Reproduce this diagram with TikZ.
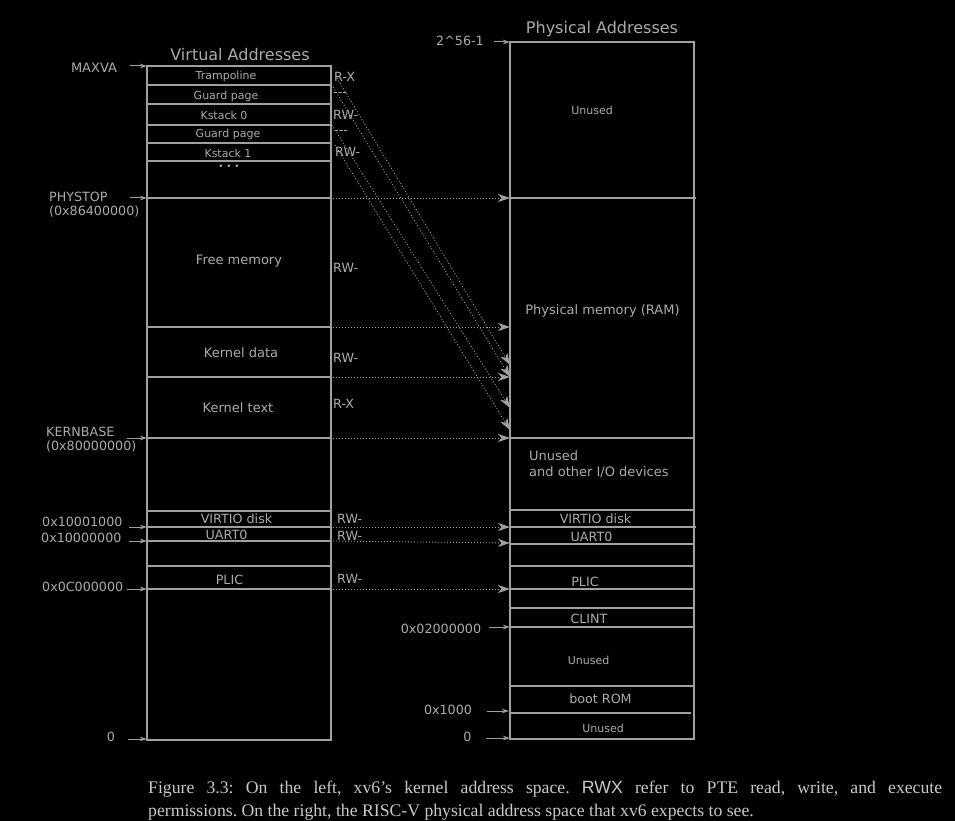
\documentclass[tikz,border=0pt]{standalone}
\usepackage{fontspec}
\setmainfont{DejaVu Sans}
\newfontfamily\capfont{Liberation Serif}
\newfontfamily\capsans{Liberation Sans}
\usetikzlibrary{arrows.meta}
\definecolor{ln}{HTML}{A0A0A0}
\definecolor{tx}{HTML}{ABABAB}
\definecolor{captx}{HTML}{C8C8C8}
\tikzset{
  membox/.style={draw=ln, line width=1.2pt},
  sepline/.style={draw=ln, line width=1.2pt},
  lbl/.style={text=tx, inner sep=0pt, font=\fontsize{12.7}{14}\selectfont},
  sml/.style={text=tx, inner sep=0pt, font=\fontsize{11}{13}\selectfont},
  med/.style={text=tx, inner sep=0pt, font=\fontsize{13}{15}\selectfont},
  ttl/.style={text=tx, inner sep=0pt, font=\fontsize{16}{18}\selectfont},
  ptr/.style={draw=ln, line width=1pt, -{Stealth[length=7pt,width=4.5pt,inset=2pt]}},
  mapar/.style={draw=ln, line width=0.9pt, dash pattern=on 0.9pt off 2.1pt, -{Stealth[length=12pt,width=8pt,inset=3.5pt]}},
  captxt/.style={text=captx, inner sep=0pt, font=\capfont\fontsize{17.7}{23}\selectfont\frenchspacing},
}
\begin{document}
\begin{tikzpicture}[x=1pt,y=-1pt]
\fill[black] (0,0) rectangle (955,821);
\useasboundingbox (0,0) rectangle (955,821);

% ---------- left box (virtual) ----------
\draw[membox] (147,66) rectangle (331,740);
\foreach \yy in {85,104,125,143,161,198,327,377,438,511,527,541,566,589}
  \draw[sepline] (147,\yy) -- (331,\yy);

\node[ttl] (vtitle) at (240,55) {Virtual Addresses};
\node[sml] (vtramp) at (226,76) {Trampoline};
\node[sml] (vguard0) at (226,96) {Guard page};
\node[sml] (vks0) at (224,115) {Kstack 0};
\node[sml] (vguard1) at (228,134.5) {Guard page};
\node[sml] (vks1) at (228,153) {Kstack 1};
\node[text=tx, inner sep=0pt, font=\fontsize{8.8}{10}\selectfont] (vdots) at (229,167) {• • •};
\node[med] (vfree) at (239,261) {Free memory};
\node[med] (vkdata) at (241,353) {Kernel data};
\node[med] (vktext) at (238,408) {Kernel text};
\node[lbl] (vvirtio) at (236.5,519) {VIRTIO disk};
\node[lbl] (vuart) at (226.5,535) {UART0};
\node[lbl] (vplic) at (229.5,579.5) {PLIC};

% permissions
\node[lbl, anchor=west] (p0) at (334,77) {R-X};
\node[lbl, anchor=west] (p1) at (333,95) {{-}{-}{-}};
\node[lbl, anchor=west] (p2) at (333,115) {RW-};
\node[lbl, anchor=west] (p3) at (334,133) {{-}{-}{-}};
\node[lbl, anchor=west] (p4) at (335,152) {RW-};
\node[lbl, anchor=west] (p5) at (333,268) {RW-};
\node[lbl, anchor=west] (p6) at (333,358) {RW-};
\node[lbl, anchor=west] (p7) at (333,404) {R-X};
\node[lbl, anchor=west] (p8) at (337,519) {RW-};
\node[lbl, anchor=west] (p9) at (337,536) {RW-};
\node[lbl, anchor=west] (p10) at (337,578.5) {RW-};

% left address labels
\node[med] (lmaxva) at (94,68) {MAXVA};
\node[lbl, anchor=west] (lphys) at (49,197) {PHYSTOP};
\node[lbl, anchor=west] (lphysv) at (49,212) {(0x86400000)};
\node[lbl, anchor=west] (lkern) at (46,432) {KERNBASE};
\node[lbl, anchor=west] (lkernv) at (46,447) {(0x80000000)};
\node[lbl, anchor=west] (lvirtio) at (42,522) {0x10001000};
\node[lbl, anchor=west] (luart) at (41,538) {0x10000000};
\node[lbl, anchor=west] (lplic) at (42,587) {0x0C000000};
\node[lbl] (lzero) at (111,737) {0};

\coordinate (aMa) at (130,66);   \coordinate (aMb) at (147,66);
\coordinate (aPa) at (130,198);  \coordinate (aPb) at (147,198);
\coordinate (aKa) at (127,438);  \coordinate (aKb) at (147,438);
\coordinate (aVa) at (129,527);  \coordinate (aVb) at (147,527);
\coordinate (aUa) at (129,541);  \coordinate (aUb) at (147,541);
\coordinate (aCa) at (127,589);  \coordinate (aCb) at (147,589);
\coordinate (aZa) at (128,739);  \coordinate (aZb) at (147,739);
\draw[ptr] (aMa) -- (aMb);
\draw[ptr] (aPa) -- (aPb);
\draw[ptr] (aKa) -- (aKb);
\draw[ptr] (aVa) -- (aVb);
\draw[ptr] (aUa) -- (aUb);
\draw[ptr] (aCa) -- (aCb);
\draw[ptr] (aZa) -- (aZb);

% ---------- right box (physical) ----------
\draw[membox] (510,42) rectangle (694,739);
\foreach \yy in {438,510,544,566,589,608,627,686}
  \draw[sepline] (510,\yy) -- (694,\yy);
\draw[sepline] (510,198) -- (696,198);
\draw[sepline] (510,527) -- (696,527);
\draw[sepline] (510,713) -- (691,713);

\node[ttl] (ptitle) at (602,29.5) {Physical Addresses};
\node[sml] (punused0) at (592,110) {Unused};
\node[med] (pram) at (602.5,311) {Physical memory (RAM)};
\node[med, anchor=west] (pio1) at (529,456) {Unused};
\node[med, anchor=west] (pio2) at (529,472) {and other I/O devices};
\node[lbl] (pvirtio) at (595.5,519) {VIRTIO disk};
\node[lbl] (puart) at (591.5,537) {UART0};
\node[lbl] (pplic) at (585,582) {PLIC};
\node[lbl] (pclint) at (589,618.5) {CLINT};
\node[sml] (punused1) at (588.5,660) {Unused};
\node[lbl] (prom) at (600.5,699) {boot ROM};
\node[sml] (punused2) at (603,728) {Unused};

\node[lbl] (rtop) at (460,41) {2\string^56-1};
\node[lbl] (rclint) at (441,628.5) {0x02000000};
\node[lbl] (rrom) at (448,710) {0x1000};
\node[lbl] (rzero) at (467.5,737) {0};

\coordinate (bTa) at (494,42);  \coordinate (bTb) at (510,42);
\coordinate (bCa) at (489,627); \coordinate (bCb) at (510,627);
\coordinate (bRa) at (487,711); \coordinate (bRb) at (509,711);
\coordinate (bZa) at (486,738); \coordinate (bZb) at (510,738);
\draw[ptr] (bTa) -- (bTb);
\draw[ptr] (bCa) -- (bCb);
\draw[ptr] (bRa) -- (bRb);
\draw[ptr] (bZa) -- (bZb);

% ---------- mappings ----------
\coordinate (m1a) at (333,198); \coordinate (m1b) at (510,198);
\coordinate (m2a) at (333,327); \coordinate (m2b) at (510,327);
\coordinate (m3a) at (333,377); \coordinate (m3b) at (510,377);
\coordinate (m4a) at (333,438); \coordinate (m4b) at (510,438);
\coordinate (m5a) at (333,527); \coordinate (m5b) at (510,527);
\coordinate (m6a) at (333,541); \coordinate (m6b) at (510,543);
\coordinate (m7a) at (333,589); \coordinate (m7b) at (510,589);
\foreach \i in {1,...,7} \draw[mapar] (m\i a) -- (m\i b);

\coordinate (d1a) at (337,78);  \coordinate (d1b) at (510,365);
\coordinate (d2a) at (333,87);  \coordinate (d2b) at (510,377);
\coordinate (d3a) at (332,125); \coordinate (d3b) at (510,408);
\coordinate (d4a) at (335,145); \coordinate (d4b) at (510,430);
\foreach \i in {1,...,4} \draw[mapar] (d\i a) -- (d\i b);

% ---------- caption ----------
\node[captxt, anchor=base west] (cap1) at (148,793)
  {\makebox[794pt][s]{Figure 3.3: On the left, xv6’s kernel address space. {\capsans RWX} refer to PTE read, write, and execute}};
\node[captxt, anchor=base west] (cap2) at (148,816)
  {permissions. On the right, the RISC-V physical address space that xv6 expects to see.};
\end{tikzpicture}
\end{document}
